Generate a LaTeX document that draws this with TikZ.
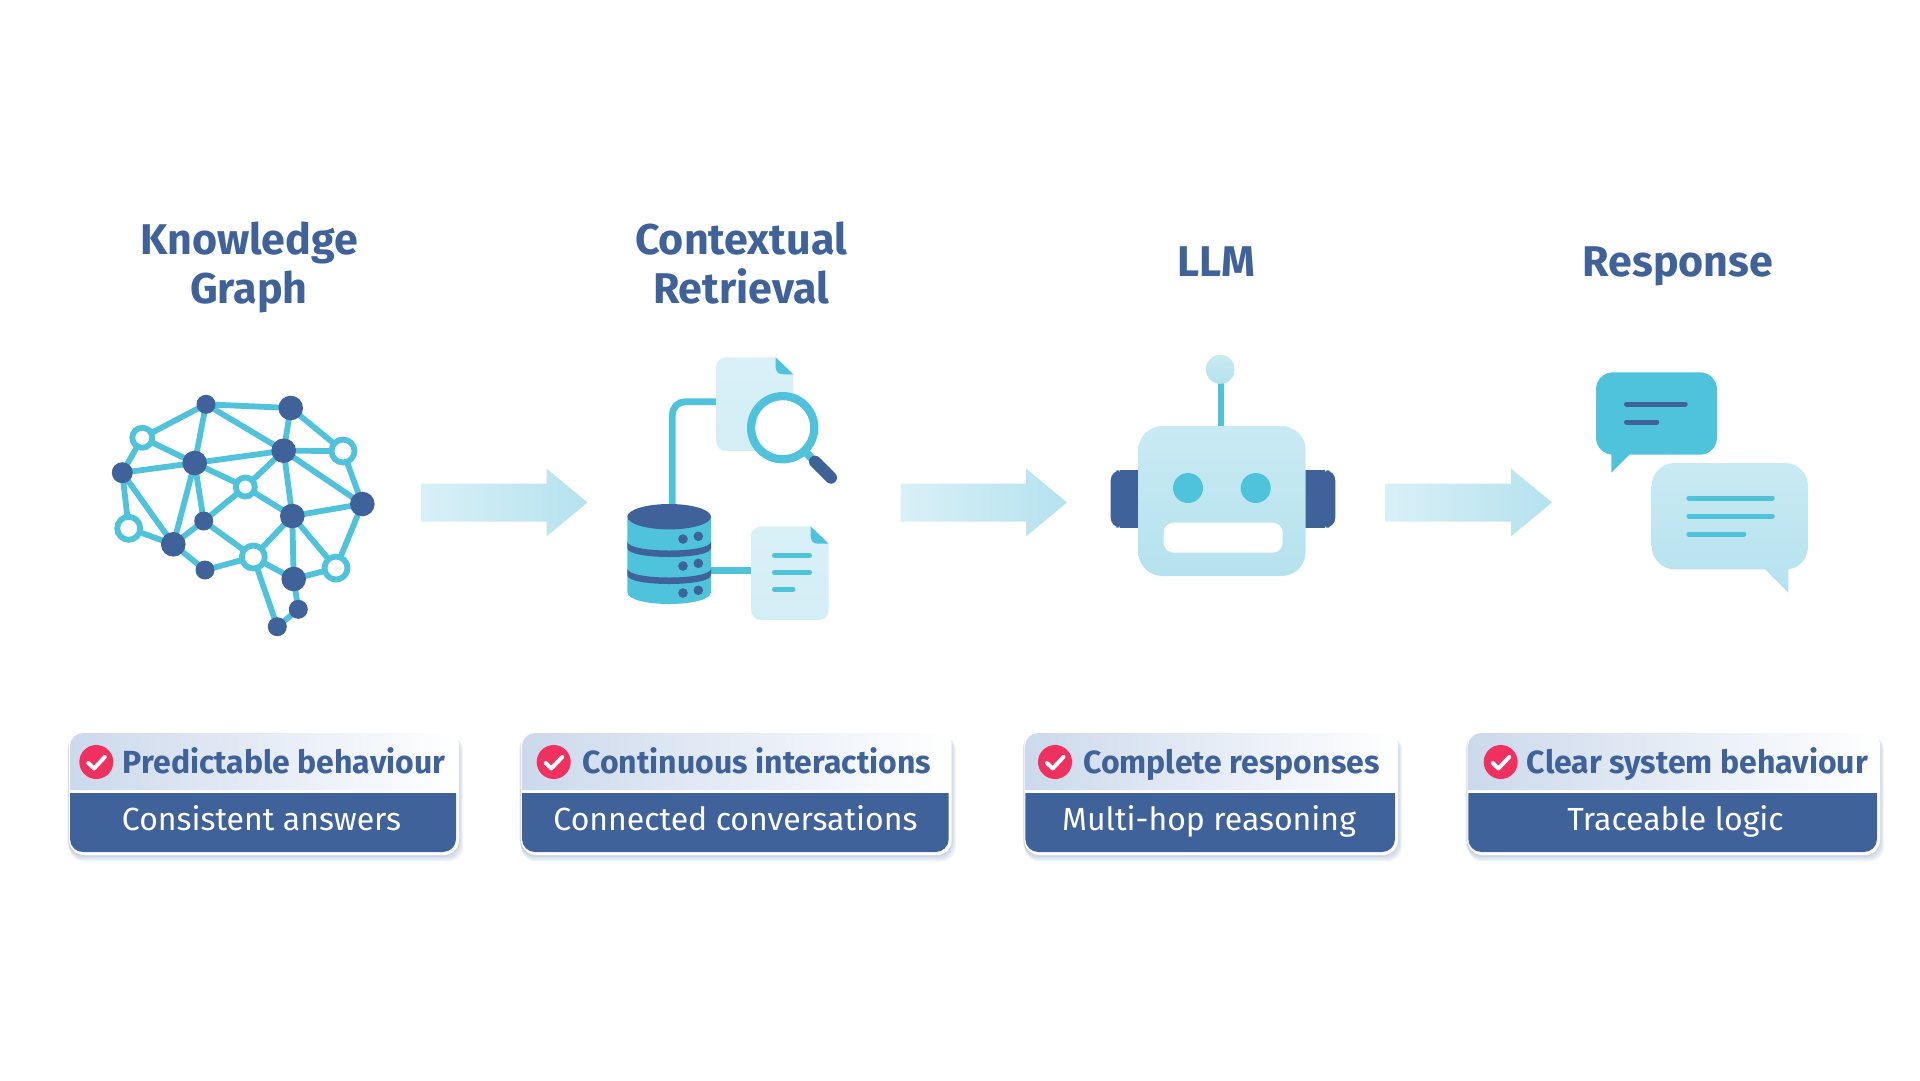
\documentclass[tikz,border=0pt]{standalone}
\usepackage{fontspec}
\setmainfont{Fira Sans}
\usetikzlibrary{backgrounds}
\definecolor{my_navy}{HTML}{3F629B}
\definecolor{my_cyan}{HTML}{4FC3DB}
\definecolor{my_pale}{HTML}{D9F0F7}
\definecolor{my_mid}{HTML}{C9EAF3}
\definecolor{my_sky}{HTML}{B5E2EE}
\definecolor{my_red}{HTML}{F0305F}
\definecolor{my_band}{HTML}{CCD9EC}

% one card: left, right, check x, header text, header x, lower text, lower x
\newcommand\mycard[8]{
  \foreach \s in {1,2,3,4,5,6} {
    \fill[my_navy,opacity=0.07,rounded corners=15] (#2+\s*0.4-3,733+\s*0.4) rectangle (#3+\s*1.2,852+\s*1.6);
  }
  \fill[white,rounded corners=15] (#2-1,730) rectangle (#3+3,855);
  \shade[left color=my_band,right color=white] (#2,790) [rounded corners=13] -- (#2,733) -- (#3,733) [sharp corners] -- (#3,790) -- cycle;
  \fill[my_navy] (#2,793) [rounded corners=13] -- (#2,852) -- (#3,852) [sharp corners] -- (#3,793) -- cycle;
  \node[tick] (#1c) at (#4,762) {};
  \draw[white,line width=4,line cap=round,line join=round] (#4-8,763) -- (#4-2.3,768.5) -- (#4+8.5,757);
  \node[head,anchor=base west] (#1h) at (#6,773) {#5};
  \node[low,anchor=base] (#1l) at (#8,830.5) {#7};
}
% one block arrow at left end
\newcommand\myarrow[1]{
  \shade[left color=my_pale,right color=my_sky] (#1,483.5) -- (#1+125.5,483.5) -- (#1+125.5,468.5) -- (#1+166.5,502.5) -- (#1+125.5,536.5) -- (#1+125.5,521.5) -- (#1,521.5) -- cycle;
}

\begin{document}
\begin{tikzpicture}[
  x=1pt,y=-1pt,
  title/.style={font=\fontsize{43}{49}\selectfont\bfseries,text=my_navy,align=center,anchor=base},
  head/.style={font=\fontsize{32}{36}\selectfont\bfseries,text=my_navy,inner sep=0},
  low/.style={font=\fontsize{32}{36}\selectfont,text=white,inner sep=0},
  tick/.style={circle,fill=my_red,minimum size=34,inner sep=0},
  big/.style={circle,fill=my_navy,minimum size=24.6,inner sep=0},
  small/.style={circle,fill=my_navy,minimum size=19,inner sep=0},
  ring/.style={circle,draw=my_cyan,line width=5.8,fill=white,minimum size=23,inner sep=0},
  link/.style={my_cyan,line width=5.8},
  pipe/.style={my_cyan,line width=6.8},
  bar/.style={line width=5,line cap=round}
  ]

\useasboundingbox (0,0) rectangle (1920,1080);

% titles
\node[title] (title1) at (249,303.7) {Knowledge\\Graph};
\node[title] (title2) at (741,303.7) {Contextual\\Retrieval};
\node[title] (title3) at (1216,276.7) {LLM};
\node[title] (title4) at (1678,276.7) {Response};

% arrows
\myarrow{421}
\myarrow{900.5}
\myarrow{1385.5}

% brain
\node[small] (k1) at (206,404.3) {};
\node[big] (k2) at (290.7,408) {};
\node[ring,minimum size=20] (k3) at (142.3,437.7) {};
\node[big] (k4) at (283.7,450.7) {};
\node[ring] (k5) at (343,451) {};
\node[small,minimum size=21] (k6) at (122.3,472.7) {};
\node[big] (k7) at (194.7,463) {};
\node[ring,minimum size=19] (k8) at (245.3,487) {};
\node[big] (k9) at (362.3,504) {};
\node[ring] (k10) at (128.7,528.3) {};
\node[small] (k11) at (203.7,521) {};
\node[big] (k12) at (292.3,516) {};
\node[big] (k13) at (173.3,544.3) {};
\node[ring] (k14) at (253.3,557) {};
\node[small] (k15) at (205,570) {};
\node[ring] (k16) at (336,568) {};
\node[big] (k17) at (293.7,579) {};
\node[small] (k18) at (298.3,609.3) {};
\node[small] (k19) at (277.3,626.7) {};

\begin{scope}[on background layer]
\draw[link] (k1.center) -- (k2.center) (k1.center) -- (k3.center) (k1.center) -- (k7.center) (k1.center) -- (k4.center);
\draw[link] (k2.center) -- (k4.center) (k2.center) -- (k5.center) (k3.center) -- (k6.center) (k3.center) -- (k7.center);
\draw[link] (k4.center) -- (k5.center) (k4.center) -- (k7.center) (k4.center) -- (k8.center) (k4.center) -- (k12.center) (k4.center) -- (k9.center);
\draw[link] (k5.center) -- (k9.center) (k6.center) -- (k7.center) (k6.center) -- (k10.center) (k6.center) -- (k13.center);
\draw[link] (k7.center) -- (k8.center) (k7.center) -- (k11.center) (k7.center) -- (k13.center);
\draw[link] (k8.center) -- (k11.center) (k8.center) -- (k12.center) (k9.center) -- (k12.center) (k9.center) -- (k16.center);
\draw[link] (k10.center) -- (k13.center) (k11.center) -- (k13.center) (k11.center) -- (k14.center);
\draw[link] (k12.center) -- (k14.center) (k12.center) -- (k17.center) (k12.center) -- (k16.center);
\draw[link] (k13.center) -- (k15.center) (k15.center) -- (k14.center) (k14.center) -- (k17.center) (k14.center) -- (k19.center);
\draw[link] (k17.center) -- (k16.center) (k17.center) -- (k18.center) (k18.center) -- (k19.center);
\end{scope}

% retrieval, pipes
\coordinate (dbtop) at (672.3,510);
\coordinate (docleft) at (718,401.7);
\coordinate (dbside) at (709,570.3);
\coordinate (noteleft) at (753,570.3);
\draw[pipe,rounded corners=13] (dbtop) |- (docleft);
\draw[pipe] (dbside) -- (noteleft);

% retrieval, database
\fill[my_cyan] (627.3,516.7) -- (627.3,592) .. controls (627.3,608) and (711,608) .. (711,592) -- (711,516.7) -- cycle;
\fill[my_navy] (669.2,516.7) ellipse [x radius=41.8pt,y radius=12.7pt];
\fill[my_navy] (627.3,541.5) .. controls (627.3,553.5) and (711,553.5) .. (711,541.5) -- (711,548) .. controls (711,560) and (627.3,560) .. (627.3,548) -- cycle;
\fill[my_navy] (627.3,568.5) .. controls (627.3,580.5) and (711,580.5) .. (711,568.5) -- (711,575) .. controls (711,587) and (627.3,587) .. (627.3,575) -- cycle;
\fill[my_navy] (683,539) circle [radius=4.8pt] (698.3,536.3) circle [radius=4.8pt];
\fill[my_navy] (683,566) circle [radius=4.8pt] (698.3,563.3) circle [radius=4.8pt];
\fill[my_navy] (683,593) circle [radius=4.8pt] (698.3,590.3) circle [radius=4.8pt];

% retrieval, top document and lens
\shade[top color=my_pale,bottom color=my_pale!85!my_sky,rounded corners=10] (716,400) -- (716,357.3) [sharp corners] -- (775.7,357.3) -- (793.3,374.3) [rounded corners=10] -- (793.3,451) -- (716,451) -- cycle;
\fill[my_cyan] (775.7,357.3) -- (793.3,374.3) -- (783,374.3) .. controls (778.5,374.3) and (775.7,371.5) .. (775.7,367) -- cycle;
\draw[my_cyan,line width=8.2,fill=white] (782.7,427.7) circle [radius=31.6pt];
\draw[my_cyan,line width=8] (806.5,453) -- (816,463);
\draw[my_navy,line width=12,line cap=round] (815,461.7) -- (831,477.7);

% retrieval, lower document
\shade[top color=my_pale,bottom color=my_pale!85!my_sky,rounded corners=10] (751,570) -- (751,526.3) [sharp corners] -- (810.7,526.3) -- (828.7,543.7) [rounded corners=10] -- (828.7,620) -- (751,620) -- cycle;
\fill[my_cyan] (810.7,526.3) -- (828.7,543.7) -- (818,543.7) .. controls (813.5,543.7) and (810.7,541) .. (810.7,536.5) -- cycle;
\draw[bar,my_cyan] (774.5,555.3) -- (809.5,555.3);
\draw[bar,my_cyan] (774.5,572.3) -- (809.5,572.3);
\draw[bar,my_cyan] (774.5,589.3) -- (793,589.3);

% robot
\fill[my_navy,rounded corners=10] (1125,470.3) rectangle (1110.7,527.7);
\fill[my_navy] (1120,470.3) rectangle (1140,527.7);
\fill[my_navy,rounded corners=10] (1320,470.3) rectangle (1335.3,527.7);
\fill[my_navy] (1304,470.3) rectangle (1325,527.7);
\draw[my_cyan,line width=6] (1221,380) -- (1221,428);
\shade[top color=my_mid,bottom color=my_sky] (1220.3,369.3) circle [radius=14.5pt];
\shade[top color=my_mid,bottom color=my_sky,rounded corners=24] (1138.3,426) rectangle (1305.7,576);
\fill[my_cyan] (1188,488) circle [radius=15pt] (1255.7,488) circle [radius=15pt];
\fill[white,rounded corners=10] (1163.7,522.7) rectangle (1282.7,552.7);

% speech
\fill[my_cyan,rounded corners=17] (1611.3,454.7) -- (1596,454.7) -- (1596,372.3) -- (1717,372.3) -- (1717,454.7) -- (1629.3,454.7);
\fill[my_cyan] (1611.3,445) -- (1611.3,472.7) -- (1629.3,454.7) -- (1629.3,445) -- cycle;
\draw[bar,my_navy] (1626.5,404) -- (1685.2,404);
\draw[bar,my_navy] (1626.5,422) -- (1656.8,422);
\shade[top color=my_mid,bottom color=my_sky] (1788.3,592.7) -- (1765,569.3) -- (1700,569.3) [rounded corners=23] -- (1651.7,569.3) -- (1651.7,463) -- (1808,463) -- (1808,530) [sharp corners] -- (1808,546) .. controls (1808,558) and (1800,568) .. (1788.3,569.3) -- cycle;
\draw[bar,my_cyan] (1688.8,498) -- (1772.2,498);
\draw[bar,my_cyan] (1688.8,516) -- (1772.2,516);
\draw[bar,my_cyan] (1688.8,534) -- (1743.8,534);

% cards
\mycard{a}{70}{456}{96.3}{Predictable behaviour}{122.7}{Consistent answers}{261.5}
\mycard{b}{522}{948.7}{553.7}{Continuous interactions}{582.3}{Connected conversations}{735.5}
\mycard{c}{1025.3}{1395}{1055}{Complete responses}{1083}{Multi-hop reasoning}{1209}
\mycard{d}{1468.3}{1877}{1500.7}{Clear system behaviour}{1526.7}{Traceable logic}{1675.5}

\end{tikzpicture}
\end{document}
